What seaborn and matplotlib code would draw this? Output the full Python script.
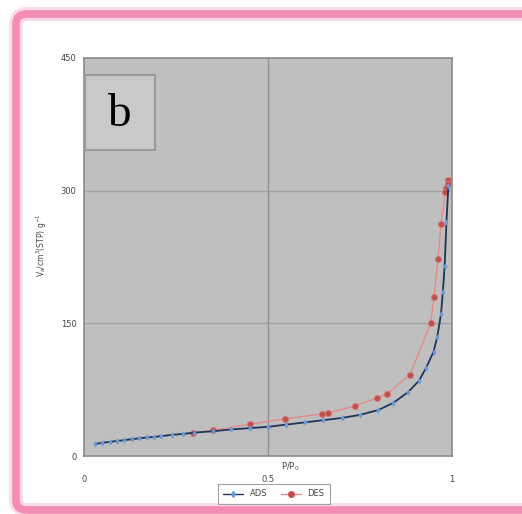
import matplotlib
matplotlib.use("Agg")
import matplotlib.pyplot as plt
from matplotlib.patches import FancyBboxPatch, Rectangle
from matplotlib.lines import Line2D
import seaborn as sns
import pandas as pd

# Adsorption branch (relative pressure, uptake in cm3 STP/g)
ads_p = [0.03, 0.05, 0.07, 0.09, 0.11, 0.13, 0.15, 0.17, 0.19, 0.21, 0.24, 0.27,
         0.30, 0.35, 0.40, 0.45, 0.50, 0.55, 0.60, 0.65, 0.70, 0.75, 0.80, 0.84,
         0.88, 0.91, 0.93, 0.95, 0.96, 0.97, 0.975, 0.98, 0.985, 0.99]
ads_v = [13.6, 15, 16, 17, 18, 19, 20, 21, 21.5, 22.5, 24, 25,
         26.5, 28, 30, 31.5, 33, 35.5, 38, 40.5, 43, 46.5, 52, 60,
         72, 85, 100, 118, 135, 160, 185, 215, 265, 305]

# Desorption branch
des_p = [0.99, 0.988, 0.985, 0.981, 0.970, 0.962, 0.951, 0.942, 0.886, 0.823,
         0.796, 0.736, 0.663, 0.647, 0.546, 0.451, 0.35, 0.296, 0.20, 0.10, 0.03]
des_v = [312, 308, 303, 298, 262, 223, 180, 150, 92, 70,
         65.6, 56.6, 48.6, 47.5, 42, 36, 29, 26, 22, 17, 13.6]
des_marked = [True] * 18 + [False] * 3

x_ticks = [0, 0.5, 1]
y_ticks = [0, 150, 300, 450]
x_tick_labels = ["0", "0.5", "1"]
y_tick_labels = ["0", "150", "300", "450"]

ads = pd.DataFrame({"p": ads_p, "v": ads_v})
des = pd.DataFrame({"p": des_p, "v": des_v, "m": des_marked})

sns.set_theme(style="white")
plt.rcParams["font.family"] = ["DejaVu Sans"]

fig = plt.figure(figsize=(5.22, 5.14), dpi=100)
fig.patch.set_facecolor("white")

# pink frame around the panel (right edge runs past the canvas)
box_xy = (16 / 522, 4 / 514)
box_w, box_h = 540 / 522, 496 / 514
for lw, col, z in ((10, "#fcd9e7", 0), (5.5, "#f38db6", 1)):
    fig.add_artist(FancyBboxPatch(box_xy, box_w, box_h,
                                  boxstyle="round,pad=0,rounding_size=0.02",
                                  transform=fig.transFigure, facecolor="none",
                                  edgecolor=col, linewidth=lw, zorder=z))

ax = fig.add_axes([84 / 522, 58 / 514, 368 / 522, 398 / 514])
ax.set_facecolor("#bfbfbf")

sns.lineplot(data=des, x="p", y="v", ax=ax, color="#e58a8a", linewidth=1.0,
             sort=False, estimator=None, zorder=3)
sns.scatterplot(data=des[des["m"]], x="p", y="v", ax=ax, color="#c0504d",
                s=20, edgecolor="#d77a7a", linewidth=0.6, zorder=4)
sns.lineplot(data=ads, x="p", y="v", ax=ax, color="#1f3558", linewidth=1.3,
             sort=False, estimator=None, marker="d", markersize=2.5,
             markerfacecolor="#6a9ad6", markeredgecolor="#6a9ad6", zorder=5)

ax.set_xlim(0, 1)
ax.set_ylim(0, 450)
ax.set_xticks(x_ticks)
ax.set_xticklabels(x_tick_labels)
ax.set_yticks(y_ticks)
ax.set_yticklabels(y_tick_labels)
ax.tick_params(axis="both", labelsize=6, colors="#444444", length=2, width=0.6)
ax.tick_params(axis="x", pad=12)
ax.set_xlabel("")
ax.set_ylabel("")

for y in (150, 300):
    ax.axhline(y, color="#a3a3a3", linewidth=1.0, zorder=1)
ax.axvline(0.5, color="#8f8f8f", linewidth=1.0, zorder=1)

for s in ax.spines.values():
    s.set_color("#8a8a8a")
    s.set_linewidth(1.2)

ax.text(0.56, -0.012, "P/P$_0$", transform=ax.transAxes, fontsize=6,
        color="#444444", ha="center", va="top")
fig.text(42 / 522, 1 - 245 / 514, "V$_a$/cm$^3$(STP) g$^{-1}$", rotation=90,
         fontsize=5.5, color="#444444", ha="center", va="center")

# panel label button
bx = Rectangle((0.004, 0.768), 0.19, 0.19, transform=ax.transAxes,
               facecolor="#c9c9c9", edgecolor="#9a9a9a", linewidth=1.5, zorder=6)
ax.add_patch(bx)
ax.text(0.095, 0.858, "b", transform=ax.transAxes, fontsize=34,
        family="Liberation Serif", ha="center", va="center", color="black", zorder=7)

handles = [
    Line2D([0], [0], color="#1f3558", linewidth=1.0, marker="d", markersize=3,
           markerfacecolor="#6a9ad6", markeredgecolor="#6a9ad6"),
    Line2D([0], [0], color="#e58a8a", linewidth=1.0, marker="o", markersize=4,
           markerfacecolor="#c0504d", markeredgecolor="#c0504d"),
]
leg = fig.legend(handles, ["ADS", "DES"], ncol=2, loc="center",
                 bbox_to_anchor=(274 / 522, 1 - 494 / 514), fontsize=6,
                 frameon=True, fancybox=False, handlelength=2.4,
                 columnspacing=1.6, borderpad=0.7)
leg.get_frame().set_edgecolor("#8a8a8a")
leg.get_frame().set_linewidth(0.8)
for t in leg.get_texts():
    t.set_color("#444444")

fig.savefig("out.png", dpi=100)
